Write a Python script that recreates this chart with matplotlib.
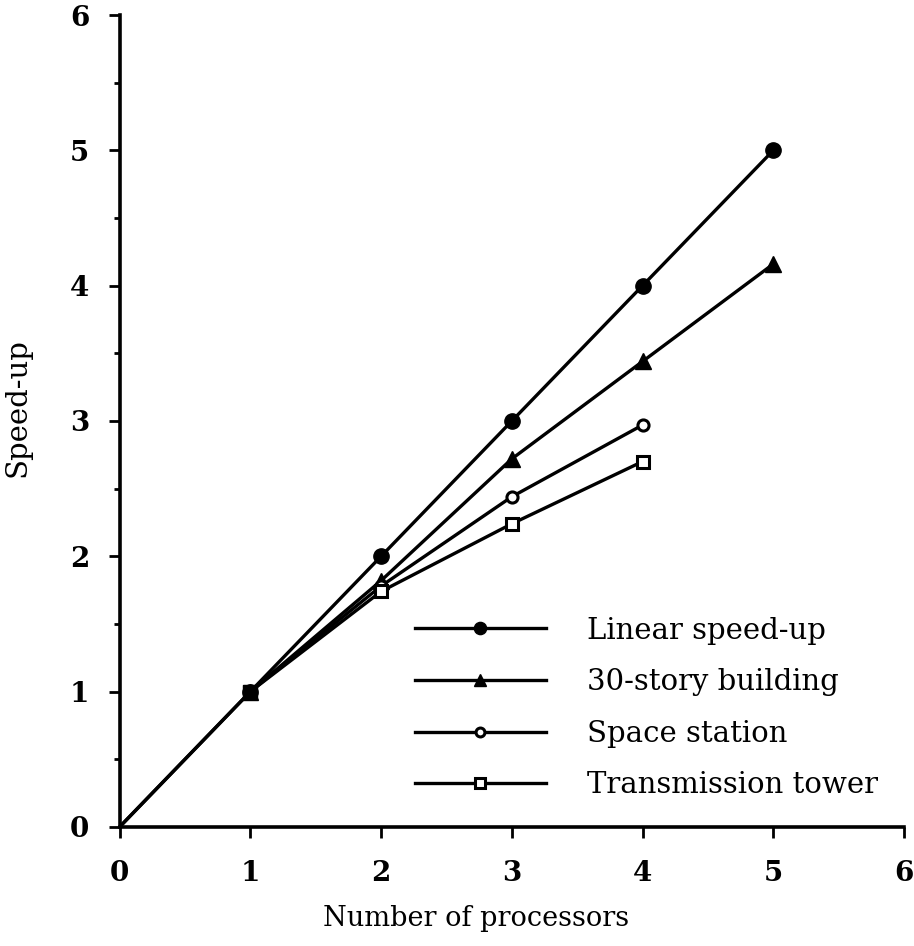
import matplotlib.pyplot as plt
from matplotlib.ticker import MultipleLocator

# processor counts and measured speed-up for each structure
procs_5 = [0, 1, 2, 3, 4, 5]
procs_4 = [1, 2, 3, 4]
linear = [0, 1, 2, 3, 4, 5]
building = [0, 1, 1.82, 2.72, 3.44, 4.16]
station = [1, 1.78, 2.44, 2.97]
tower = [1, 1.74, 2.24, 2.70]

labels = ["Linear speed-up", "30-story building", "Space station", "Transmission tower"]

plt.rcParams['font.family'] = 'DejaVu Serif'

fig = plt.figure(figsize=(9.14, 9.46), dpi=100)
ax = fig.add_axes([0.131, 0.126, 0.858, 0.858])

lw = 2.4
ax.plot(procs_5, linear, color='black', lw=lw, marker='o', ms=11,
        markevery=[1, 2, 3, 4, 5], label=labels[0])
ax.plot(procs_5, building, color='black', lw=lw, marker='^', ms=11,
        markevery=[1, 2, 3, 4, 5], label=labels[1])
ax.plot(procs_4, station, color='black', lw=lw, marker='o', ms=8,
        mfc='white', mew=2.2, label=labels[2])
ax.plot(procs_4, tower, color='black', lw=lw, marker='s', ms=8.5,
        mfc='white', mew=2.2, label=labels[3])
# filled square at (1, 1) where all curves meet
ax.plot([procs_4[0]], [tower[0]], color='black', marker='s', ms=10, lw=0)

ax.set_xlim(0, 6)
ax.set_ylim(0, 6)
ax.spines['top'].set_visible(False)
ax.spines['right'].set_visible(False)
ax.spines['left'].set_linewidth(2.6)
ax.spines['bottom'].set_linewidth(2.6)
ax.xaxis.set_major_locator(MultipleLocator(1))
ax.yaxis.set_major_locator(MultipleLocator(1))
ax.yaxis.set_minor_locator(MultipleLocator(0.5))
ax.tick_params(axis='both', which='major', length=8, width=2, direction='out',
               labelsize=20)
ax.tick_params(axis='x', which='major', pad=16)
ax.tick_params(axis='y', which='major', pad=14)
ax.tick_params(axis='y', which='minor', length=4, width=2, direction='out')
for t in ax.get_xticklabels() + ax.get_yticklabels():
    t.set_fontweight('bold')

ax.set_xlabel("Number of processors", fontsize=19.5)
ax.xaxis.set_label_coords(0.454, -0.096)
ax.set_ylabel("Speed-up", fontsize=21)
ax.yaxis.set_label_coords(-0.112, 0.516)

ax.legend(loc='upper left', bbox_to_anchor=(0.376, 0.259), frameon=False,
          borderpad=0, borderaxespad=0, fontsize=21, handlelength=4.5,
          handletextpad=1.4, labelspacing=0.81, markerscale=0.8)

fig.savefig("out.png", dpi=100)
